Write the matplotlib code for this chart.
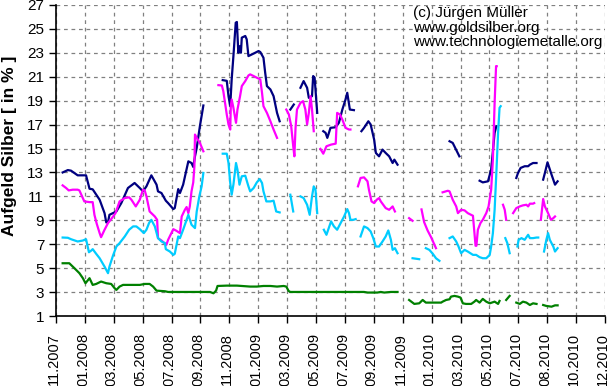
import numpy as np
import matplotlib
matplotlib.use('Agg')
import matplotlib.pyplot as plt
import matplotlib.transforms as mtransforms

nan = np.nan

# tick labels, one per tick position 0..19 (category-style date axis)
month_labels = ['11.2007', '01.2008', '03.2008', '05.2008', '07.2008', '09.2008',
                '11.2008', '01.2009', '03.2009', '05.2009', '07.2009', '09.2009',
                '11.2009', '01.2010', '03.2010', '05.2010', '07.2010', '08.2010',
                '10.2010', '12.2010']

# positions are in tick units, nan marks a gap in the series
navy_x = [0.23, 0.41, 0.52, 0.75, 0.98, 1.04, 1.16, 1.27, 1.51, 1.68, 1.74, 1.80, 1.85, 2.09,
          2.26, 2.49, 2.72, 2.90, 3.01, 3.13, 3.30, 3.48, 3.53, 3.65, 3.80, 3.88, 4.06, 4.11,
          4.23, 4.29, 4.40, 4.58, 4.69, 4.75, 4.81, 4.87, 4.98, 5.10, nan,
          5.77, 5.91, 5.97, 6.03, 6.08, 6.14, 6.22, 6.26, 6.31, 6.37, 6.40, 6.43, 6.55, 6.60,
          6.66, 6.78, 7.01, 7.07, 7.18, 7.24, 7.30, 7.42, 7.53, 7.65, 7.74, nan,
          8.11, 8.23, nan,
          8.46, 8.57, 8.69, 8.75, 8.86, 8.90, 8.95, 8.98, 9.04, nan,
          9.25, 9.33, 9.39, 9.50, 9.68, 9.79, 9.91, 10.02, 10.08, 10.17, 10.31, nan,
          10.57, 10.66, 10.81, 10.89, 11.01, 11.07, 11.18, 11.30, 11.41, 11.53, 11.65, 11.71, 11.82, nan,
          13.62, 13.73, 13.96, nan,
          14.66, 14.77, 14.95, 15.06, 15.18, 15.24, nan,
          15.93, 15.99, 16.08, 16.22, 16.34, 16.40, 16.51, 16.63, nan,
          16.86, 16.92, 17.01, 17.15, 17.27, 17.36]
navy_y = [13.0, 13.2, 13.15, 12.76, 12.76, 12.76, 11.64, 11.59, 10.72, 9.6, 8.82, 8.85, 9.46, 9.74,
          10.44, 11.7, 12.12, 11.7, 11.42, 11.84, 12.76, 11.98, 11.42, 11.28, 10.64, 10.44, 9.94, 10.02,
          11.61, 11.28, 11.98, 13.93, 13.79, 13.46, 14.35, 15.05, 16.87, 18.6, nan,
          20.72, 20.66, 19.38, 18.54, 20.78, 22.73, 25.52, 25.58, 23.01, 23.57, 23.01, 24.27, 24.41, 24.13,
          22.73, 22.87, 23.15, 23.07, 22.59, 21.33, 20.22, 19.94, 19.38, 17.98, 17.28, nan,
          18.26, 18.68, nan,
          20.08, 20.64, 20.08, 19.24, 19.38, 21.06, 20.92, 19.94, 17.98, nan,
          16.45, 16.31, 15.89, 16.73, 16.78, 17.15, 18.26, 19.1, 19.66, 18.26, 18.21, nan,
          16.45, 16.73, 17.28, 17.01, 15.75, 14.63, 14.35, 14.91, 14.63, 14.35, 13.79, 14.07, 13.65, nan,
          15.61, 15.47, 14.35, nan,
          12.31, 12.17, 12.26, 13.24, 16.31, 16.87, nan,
          12.54, 12.96, 13.38, 13.52, 13.52, 13.65, 13.79, 13.79, nan,
          12.40, 12.96, 13.85, 12.82, 11.98, 12.26]

pink_x = [0.23, 0.35, 0.44, 0.58, 0.75, 0.81, 0.98, 1.16, 1.27, 1.33, 1.41, 1.51, 1.56, 1.68, 1.80, 1.91,
          2.06, 2.20, 2.38, 2.53, 2.61, 2.76, 2.90, 3.01, 3.07, 3.13, 3.24, 3.42, 3.50, 3.53, 3.65, 3.82,
          3.88, 4.06, 4.17, 4.29, 4.35, 4.46, 4.52, 4.58, 4.63, 4.69, 4.75, 4.79, 4.81, 4.87, 4.98, 5.10, nan,
          5.62, 5.74, 5.79, 5.85, 5.91, 5.97, 6.03, 6.05, 6.08, 6.14, 6.23, 6.28, 6.37, 6.43, 6.55, 6.66,
          6.72, 6.84, 6.95, 7.07, 7.13, 7.18, 7.30, 7.42, 7.53, 7.65, nan,
          7.97, 8.06, 8.14, 8.21, 8.25, 8.29, 8.34, 8.46, 8.55, 8.63, 8.69, 8.75, 8.81, 8.86, 8.92, nan,
          9.15, 9.25, 9.36, 9.52, 9.68, 9.73, 9.83, 9.91, 10.02, 10.14, 10.19, nan,
          10.45, 10.54, 10.66, 10.78, 10.83, 10.92, 11.01, 11.10, 11.18, 11.24, 11.41, 11.53, 11.65, 11.73, nan,
          12.22, 12.34, nan,
          12.65, 12.74, 12.86, 12.98, 13.15, nan,
          13.38, 13.56, 13.62, 13.73, 13.85, 13.91, 14.02, 14.14, 14.25, 14.37, 14.43, 14.48, 14.52, 14.55,
          14.60, 14.69, 14.77, 14.89, 14.97, 15.06, 15.12, 15.18, 15.23, 15.25, nan,
          15.47, 15.53, 15.58, nan,
          15.82, 15.93, 16.05, 16.16, 16.28, 16.34, 16.40, 16.51, 16.55, nan,
          16.78, 16.86, 16.92, 17.03, 17.13, 17.21, 17.27]
pink_y = [11.92, 11.70, 11.50, 11.56, 11.56, 11.50, 10.58, 10.52, 10.52, 9.46, 8.71, 7.93, 7.59, 8.21, 8.77, 9.10,
          9.60, 10.58, 10.86, 10.92, 10.72, 10.16, 10.72, 11.56, 11.50, 11.00, 9.74, 9.32, 9.04, 7.51, 7.31, 6.95,
          7.37, 8.26, 8.12, 7.93, 9.32, 9.88, 10.11, 9.60, 10.16, 11.42, 12.17, 13.51, 16.17, 15.89, 15.47, 14.77, nan,
          20.30, 20.27, 19.80, 18.82, 17.84, 17.01, 16.59, 18.54, 19.10, 18.40, 17.15, 18.26, 19.38, 20.22, 20.64, 21.11,
          21.20, 21.06, 20.92, 20.78, 19.66, 18.54, 17.98, 17.28, 16.59, 15.89, nan,
          18.26, 17.84, 16.87, 15.19, 14.35, 16.73, 18.26, 18.82, 18.96, 18.26, 17.01, 17.98, 19.38, 18.26, 16.45, nan,
          14.97, 14.57, 15.19, 15.33, 15.41, 17.98, 17.84, 17.42, 16.73, 16.59, 16.59, nan,
          11.84, 12.54, 12.59, 12.26, 11.56, 10.58, 10.44, 10.72, 10.86, 10.58, 10.02, 9.88, 10.16, 9.74, nan,
          9.18, 8.96, nan,
          9.91, 8.85, 8.15, 7.59, 6.67, nan,
          11.34, 11.47, 11.42, 10.72, 10.16, 9.60, 9.88, 9.83, 9.60, 9.46, 9.38, 7.93, 6.87, 6.87,
          8.21, 8.77, 9.04, 9.60, 10.16, 11.56, 14.07, 18.82, 21.89, 21.89, nan,
          10.30, 9.88, 9.04, nan,
          9.60, 10.02, 10.16, 10.25, 10.30, 10.16, 10.39, 10.39, 10.44, nan,
          9.04, 10.78, 10.16, 9.60, 9.04, 9.18, 9.32]

cyan_x = [0.23, 0.41, 0.52, 0.75, 0.93, 1.04, 1.14, 1.22, 1.27, 1.39, 1.51, 1.68, 1.80, 1.85, 1.97,
          2.09, 2.20, 2.38, 2.53, 2.67, 2.78, 2.90, 3.04, 3.13, 3.22, 3.30, 3.42, 3.53, 3.65, 3.77,
          3.80, 3.94, 4.06, 4.11, 4.23, 4.29, 4.40, 4.52, 4.58, 4.69, 4.81, 4.87, 4.96, 5.04, 5.10, nan,
          5.77, 5.91, 5.97, 6.03, 6.08, 6.14, 6.23, 6.28, 6.35, 6.43, 6.55, 6.66, 6.72, 6.84, 6.95,
          7.05, 7.13, 7.18, 7.28, 7.42, 7.53, 7.62, 7.74, nan,
          8.11, 8.21, nan,
          8.46, 8.57, 8.69, 8.78, 8.86, 8.92, 8.98, 9.04, nan,
          9.27, 9.36, 9.44, 9.52, 9.62, 9.73, 9.85, 9.97, 10.08, 10.14, 10.19, 10.29, 10.37, nan,
          10.54, 10.66, 10.78, 10.89, 10.98, 11.07, 11.18, 11.30, 11.41, 11.50, 11.59, 11.65, 11.73, 11.82, nan,
          12.34, 12.57, nan,
          12.80, 12.92, 13.04, 13.15, 13.27, nan,
          13.62, 13.73, 13.85, 13.93, 14.02, 14.14, 14.25, 14.43, 14.54, 14.66,
          14.77, 14.89, 15.01, 15.06, 15.12, 15.18, 15.24, 15.30, 15.35, 15.39, nan,
          15.55, 15.62, 15.70, nan,
          15.97, 16.01, 16.11, 16.22, 16.34, 16.40, 16.51, 16.63, 16.69, nan,
          16.89, 16.97, 17.03, 17.09, 17.21, 17.27, 17.36]
cyan_y = [7.56, 7.54, 7.42, 7.23, 7.31, 7.42, 6.33, 6.47, 6.59, 6.20, 5.83, 5.13, 4.58, 5.13, 6.03,
          6.81, 7.09, 7.65, 8.21, 8.49, 8.49, 8.26, 7.93, 8.21, 8.77, 9.04, 8.49, 7.51, 7.23, 7.09,
          6.59, 6.39, 6.11, 6.20, 7.65, 7.51, 8.21, 9.04, 9.46, 8.63, 8.35, 9.74, 11.0, 11.84, 12.96, nan,
          14.57, 14.57, 13.79, 12.12, 11.14, 11.98, 13.79, 13.24, 11.98, 12.68, 12.73, 11.84, 11.42, 11.70, 12.17,
          12.45, 12.12, 11.42, 10.58, 10.58, 10.64, 9.74, 9.66, nan,
          11.14, 9.74, nan,
          11.0, 10.86, 10.30, 9.46, 11.0, 11.84, 11.56, 9.60, nan,
          8.21, 7.79, 8.35, 8.91, 8.49, 8.21, 8.77, 9.32, 9.94, 9.60, 9.04, 9.04, 9.10, nan,
          7.65, 8.49, 8.35, 8.07, 7.51, 6.81, 6.81, 7.23, 7.65, 8.15, 7.37, 6.53, 6.67, 6.25, nan,
          5.83, 5.75, nan,
          6.67, 6.53, 6.20, 5.83, 5.61, nan,
          7.51, 7.65, 7.23, 6.81, 6.25, 6.53, 6.39, 6.11, 6.11, 5.92,
          5.83, 5.83, 6.11, 6.81, 7.93, 9.88, 12.96, 16.31, 18.40, 18.54, nan,
          7.51, 7.09, 6.25, nan,
          6.81, 7.37, 7.51, 7.37, 7.79, 7.51, 7.51, 7.56, 7.56, nan,
          6.39, 7.37, 7.93, 7.37, 6.81, 6.39, 6.67]

green_x = [0.23, 0.46, 0.64, 0.81, 0.93, 1.02, 1.16, 1.27, 1.39, 1.56, 1.74, 1.91, 2.03, 2.09, 2.20,
           2.32, 2.67, 2.90, 3.07, 3.24, 3.36, 3.48, 3.77, 3.88, 4.29, 4.98, 5.33, 5.45, 5.54, 5.59,
           5.91, 6.26, 6.72, 6.95, 7.18, 7.42, 7.65, 7.88, 7.97, 8.05, 8.11, 9.55, 10.66, 10.78, 11.12,
           11.24, 11.36, 11.59, 11.82, nan,
           12.22, 12.40, 12.57, 12.69, 12.80, 12.98, 13.21, 13.33, 13.38, 13.50, 13.62, 13.67, 13.79, 13.91,
           14.00, 14.08, 14.19, 14.37, 14.48, 14.54, 14.66, 14.77, 14.89, 15.01, 15.18, 15.30, 15.35, nan,
           15.58, 15.70, nan,
           15.93, 16.05, 16.16, 16.28, 16.40, 16.51, 16.63, nan,
           16.86, 16.97, 17.15, 17.27, 17.36]
green_y = [5.41, 5.41, 4.99, 4.58, 4.16, 3.74, 4.16, 3.60, 3.68, 3.88, 3.74, 3.68, 3.32, 3.18, 3.46,
           3.60, 3.60, 3.60, 3.68, 3.68, 3.46, 3.12, 3.07, 3.01, 3.01, 3.01, 3.01, 2.90, 3.12, 3.51,
           3.54, 3.54, 3.46, 3.46, 3.51, 3.51, 3.46, 3.51, 3.46, 3.09, 3.01, 3.01, 3.01, 2.96, 2.96,
           3.01, 2.96, 3.01, 3.01, nan,
           2.34, 2.01, 2.06, 2.34, 2.12, 2.12, 2.12, 2.12, 2.20, 2.34, 2.40, 2.62, 2.68, 2.62,
           2.54, 2.06, 2.01, 2.01, 2.20, 2.34, 2.12, 2.43, 2.20, 2.06, 2.20, 2.01, 2.26, nan,
           2.34, 2.68, nan,
           2.12, 2.01, 2.20, 2.12, 1.92, 2.06, 2.01, nan,
           1.92, 1.84, 1.78, 1.89, 1.89]

plt.rcParams['font.family'] = ['Liberation Sans', 'DejaVu Sans']

fig = plt.figure(figsize=(6.10, 3.86), dpi=100)
ax = fig.add_axes([56 / 610, 1 - 316 / 386, 549 / 610, 311 / 386])

lw = 1.6
ax.plot(navy_x, navy_y, color='#000080', lw=lw, zorder=3)
ax.plot(pink_x, pink_y, color='#ff00ff', lw=lw, zorder=4)
ax.plot(cyan_x, cyan_y, color='#00ccff', lw=lw, zorder=5)
ax.plot(green_x, green_y, color='#008000', lw=lw, zorder=6)

ax.set_xlim(0, len(month_labels) - 1)
ax.set_ylim(1, 27)
ax.set_yticks(np.arange(1, 28, 2))
ax.set_xticks(np.arange(len(month_labels)))
ax.set_xticklabels(month_labels, rotation=90)
ax.tick_params(labelsize=11, length=5, width=1, color='black')
ax.tick_params(axis='x', labelsize=10.5, pad=7)
# nudge the rotated date labels a touch left so the last one stays inside
shift = mtransforms.ScaledTranslation(-2 / 100, 0, fig.dpi_scale_trans)
for lbl in ax.get_xticklabels():
    lbl.set_transform(lbl.get_transform() + shift)
ax.grid(True, color='#808080', linestyle=(0, (3, 3)), linewidth=0.9, zorder=1)
ax.set_axisbelow(True)
for s in ['top', 'right']:
    ax.spines[s].set_visible(False)
for s in ['left', 'bottom']:
    ax.spines[s].set_linewidth(1.2)

fig.text(10 / 610, 1 - 146 / 386, 'Aufgeld Silber [ in % ]', rotation=90,
         ha='center', va='center', fontsize=12.5, fontweight='bold')
fig.text(413 / 610, 1 - 6 / 386,
         '(c) Jürgen Müller\nwww.goldsilber.org\nwww.technologiemetalle.org',
         ha='left', va='top', fontsize=11, linespacing=1.05)

fig.savefig('out.png', dpi=100)
